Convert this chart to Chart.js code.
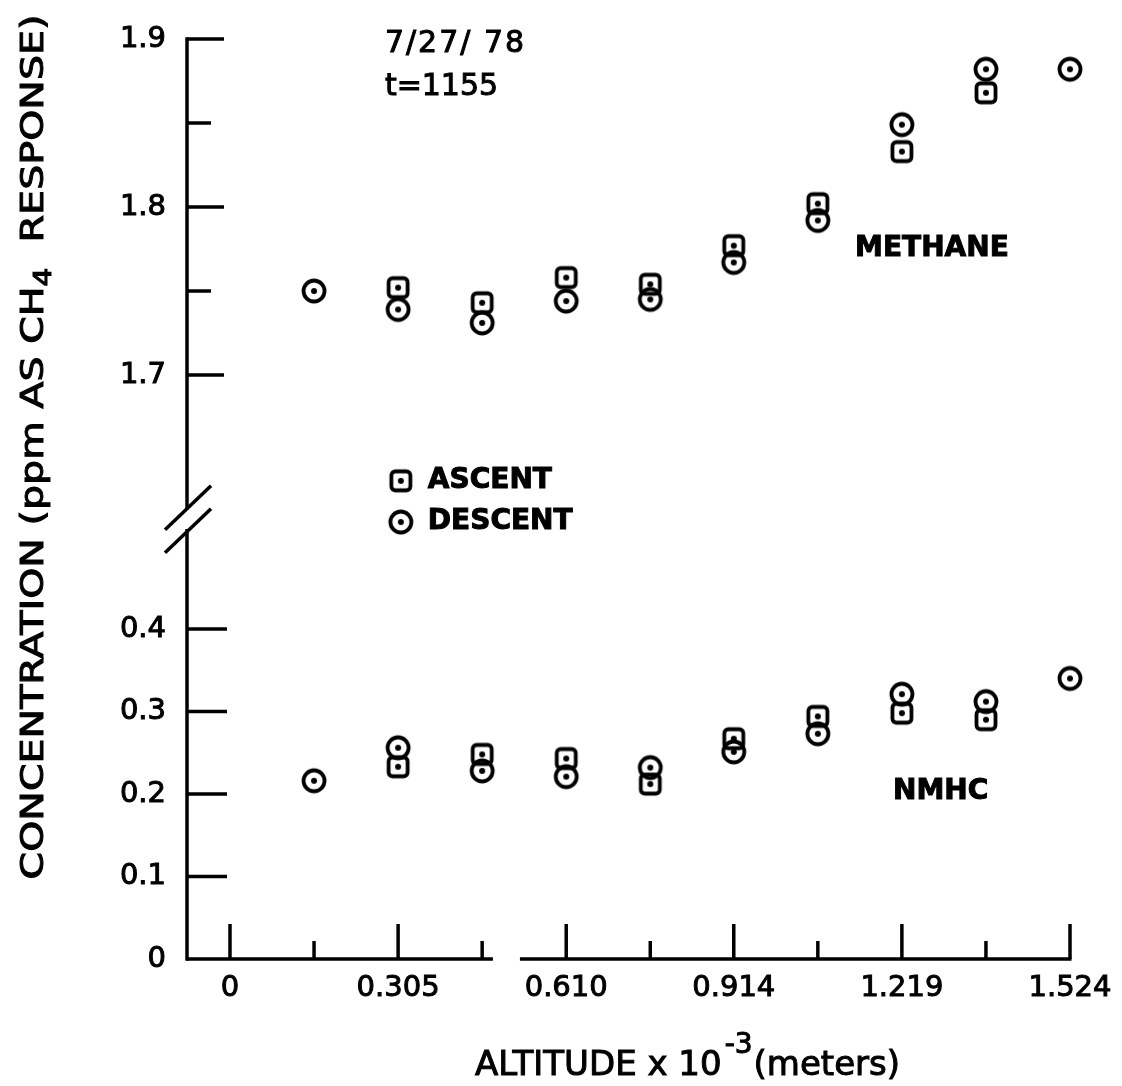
<!DOCTYPE html>
<html>
<head>
<meta charset="utf-8">
<title>Methane and NMHC vs altitude</title>
<script src="https://cdn.jsdelivr.net/npm/chart.js@4.4.1/dist/chart.umd.min.js"></script>
<style>
  html, body { margin: 0; padding: 0; background: #fff; }
  canvas { display: block; }
</style>
</head>
<body>
<canvas id="chart" width="1122" height="1086"></canvas>
<script>
// altitude x 10^-3 (m) of each sample
const altitude = [0.1525, 0.305, 0.4575, 0.610, 0.7625, 0.914, 1.0665, 1.219, 1.3715, 1.524];

// ppm as CH4 response, null = no sample
const methaneAscent  = [null, 1.752, 1.743, 1.758, 1.754, 1.777, 1.802, 1.833, 1.868, null];
const methaneDescent = [1.750, 1.739, 1.731, 1.744, 1.745, 1.767, 1.792, 1.849, 1.882, 1.882];
const nmhcAscent     = [null, 0.233, 0.248, 0.243, 0.212, 0.267, 0.294, 0.298, 0.290, null];
const nmhcDescent    = [0.216, 0.256, 0.228, 0.221, 0.232, 0.251, 0.273, 0.321, 0.312, 0.340];

const xTicks = [0, 0.1525, 0.305, 0.4575, 0.610, 0.7625, 0.914, 1.0665, 1.219, 1.3715, 1.524];
const xTickLabels = ['0', '', '0.305', '', '0.610', '', '0.914', '', '1.219', '', '1.524'];
const topTicks = [1.7, 1.75, 1.8, 1.85, 1.9];
const topTickLabels = ['1.7', '', '1.8', '', '1.9'];
const botTicks = [0, 0.1, 0.2, 0.3, 0.4];
const botTickLabels = ['0', '0.1', '0.2', '0.3', '0.4'];

// where the broken axes stop
const topBreak = 1.621;
const botBreak = 0.519;
const xGap = [0.477, 0.526];

Chart.defaults.font.family = '"DejaVu Sans"';
Chart.defaults.color = '#000';

function makeMarker(kind) {
    const c = document.createElement('canvas');
    c.width = c.height = 30;
    const g = c.getContext('2d');
    g.strokeStyle = '#000';
    g.fillStyle = '#000';
    g.lineWidth = 3.8;
    g.beginPath();
    if (kind === 'circle') {
        g.arc(15, 15, 10.5, 0, Math.PI * 2);
    } else {
        g.roundRect(5.5, 5.5, 19, 19, 4);
    }
    g.stroke();
    g.beginPath();
    g.arc(15, 15, 3, 0, Math.PI * 2);
    g.fill();
    return c;
}
const squareMark = makeMarker('square');
const circleMark = makeMarker('circle');

function pts(vals) {
    return altitude.map((x, i) => ({ x: x, y: vals[i] })).filter(p => p.y !== null);
}

const tickFont = { size: 29 };

const brokenAxes = {
    id: 'brokenAxes',
    afterDatasetsDraw(chart) {
        const { ctx, chartArea: a, scales } = chart;
        const x = scales.x, yTop = scales.yTop, yBot = scales.yBot;
        const line = (x1, y1, x2, y2) => {
            ctx.beginPath();
            ctx.moveTo(x1, y1);
            ctx.lineTo(x2, y2);
            ctx.stroke();
        };
        const text = (s, tx, ty) => {
            ctx.strokeText(s, tx, ty);
            ctx.fillText(s, tx, ty);
        };
        ctx.save();
        ctx.strokeStyle = '#000';
        ctx.lineWidth = 3.5;
        ctx.lineCap = 'square';

        const ax = a.left;
        const yt0 = yTop.getPixelForValue(1.9), yt1 = yTop.getPixelForValue(topBreak);
        const yb0 = yBot.getPixelForValue(botBreak), yb1 = yBot.getPixelForValue(0);
        line(ax, yt0, ax, yt1);
        line(ax, yb0, ax, yb1);

        // break marks
        ctx.lineCap = 'butt';
        [yt1, yb0].forEach(yy => line(ax - 22, yy + 22, ax + 24, yy - 22));

        topTicks.forEach((v, i) => {
            const yy = yTop.getPixelForValue(v);
            line(ax, yy, ax + (topTickLabels[i] ? 37 : 24), yy);
        });
        botTicks.forEach((v, i) => {
            if (v === 0) return;
            const yy = yBot.getPixelForValue(v);
            line(ax, yy, ax + 40, yy);
        });

        // x axis with a gap
        line(ax, yb1, x.getPixelForValue(xGap[0]), yb1);
        line(x.getPixelForValue(xGap[1]), yb1, x.getPixelForValue(1.524) + 1.5, yb1);
        xTicks.forEach((v, i) => {
            const xx = x.getPixelForValue(v);
            line(xx, yb1, xx, yb1 - (xTickLabels[i] ? 35 : 18));
        });

        // notes
        ctx.lineWidth = 1;
        ctx.fillStyle = '#000';
        ctx.textAlign = 'left';
        ctx.textBaseline = 'middle';
        ctx.font = '30px "DejaVu Sans"';
        ctx.letterSpacing = '2px';
        text('7/27/ 78', x.getPixelForValue(0.281), yTop.getPixelForValue(1.897));
        ctx.letterSpacing = '0px';
        text('t=1155', x.getPixelForValue(0.281), yTop.getPixelForValue(1.8714));

        ctx.font = 'bold 28px "DejaVu Sans"';
        text('METHANE', x.getPixelForValue(1.134), yTop.getPixelForValue(1.775));
        text('NMHC', x.getPixelForValue(1.203), yBot.getPixelForValue(0.2024));

        // legend
        const lx = x.getPixelForValue(0.310);
        const ly1 = yTop.getPixelForValue(1.637), ly2 = yTop.getPixelForValue(1.6125);
        ctx.drawImage(squareMark, lx - 15, ly1 - 15);
        ctx.drawImage(circleMark, lx - 15, ly2 - 15);
        text('ASCENT', x.getPixelForValue(0.359), ly1);
        text('DESCENT', x.getPixelForValue(0.359), ly2);

        // x title
        ctx.textBaseline = 'alphabetic';
        ctx.font = '34px "DejaVu Sans"';
        let tx = 475;
        const base = 1075;
        text('ALTITUDE x 10', tx, base);
        tx += ctx.measureText('ALTITUDE x 10').width + 3;
        ctx.font = '28px "DejaVu Sans"';
        text('-3', tx, base - 22);
        tx += ctx.measureText('-3').width + 1;
        ctx.font = '34px "DejaVu Sans"';
        text('(meters)', tx, base);

        // y title, rotated, squeezed to the drawn length
        const p1 = 'CONCENTRATION (ppm AS CH', p2 = '4', p3 = '  RESPONSE)';
        ctx.font = '32px "DejaVu Sans"';
        const w1 = ctx.measureText(p1).width, w3 = ctx.measureText(p3).width;
        ctx.font = '24px "DejaVu Sans"';
        const w2 = ctx.measureText(p2).width;
        const total = w1 + w2 + w3;
        const target = 865;
        ctx.translate(35, 447);
        ctx.rotate(-Math.PI / 2);
        ctx.scale(target / total, 1);
        ctx.textBaseline = 'middle';
        let sx = -total / 2;
        ctx.font = '32px "DejaVu Sans"';
        text(p1, sx, 0);
        sx += w1;
        ctx.font = '24px "DejaVu Sans"';
        text(p2, sx, 10);
        sx += w2;
        ctx.font = '32px "DejaVu Sans"';
        text(p3, sx, 0);
        ctx.restore();
    }
};

const tickOpts = labels => ({
    callback: (v, i) => labels[i],
    font: tickFont,
    textStrokeColor: '#000',
    textStrokeWidth: 1,
    autoSkip: false
});

new Chart(document.getElementById('chart'), {
    type: 'scatter',
    data: {
        datasets: [
            { label: 'Methane ascent', data: pts(methaneAscent), yAxisID: 'yTop', pointStyle: squareMark, clip: false },
            { label: 'Methane descent', data: pts(methaneDescent), yAxisID: 'yTop', pointStyle: circleMark, clip: false },
            { label: 'NMHC ascent', data: pts(nmhcAscent), yAxisID: 'yBot', pointStyle: squareMark, clip: false },
            { label: 'NMHC descent', data: pts(nmhcDescent), yAxisID: 'yBot', pointStyle: circleMark, clip: false }
        ]
    },
    options: {
        responsive: false,
        animation: false,
        devicePixelRatio: 1,
        layout: { padding: { top: 39, right: 52, left: 0, bottom: 0 } },
        plugins: {
            legend: { display: false },
            tooltip: { enabled: false }
        },
        scales: {
            x: {
                type: 'linear',
                min: -0.078,
                max: 1.524,
                grid: { display: false, drawTicks: false },
                border: { display: false },
                afterBuildTicks: s => { s.ticks = xTicks.map(v => ({ value: v })); },
                ticks: Object.assign(tickOpts(xTickLabels), { padding: 12, maxRotation: 0 }),
                afterFit: s => { s.height = 127; s.paddingLeft = 0; s.paddingRight = 0; }
            },
            // upper and lower parts of the broken y axis, stacked in one column
            yTop: {
                type: 'linear',
                position: 'left',
                stack: 'conc',
                stackWeight: 480,
                weight: 1,
                min: 1.6143,
                max: 1.9,
                grid: { display: false, drawTicks: false },
                border: { display: false },
                afterBuildTicks: s => { s.ticks = topTicks.map(v => ({ value: v })); },
                ticks: Object.assign(tickOpts(topTickLabels), { padding: 21 }),
                afterFit: s => { s.width = 187; s.paddingTop = 0; s.paddingBottom = 0; }
            },
            yBot: {
                type: 'linear',
                position: 'left',
                stack: 'conc',
                stackWeight: 440,
                weight: 0,
                min: 0,
                max: 0.5333,
                grid: { display: false, drawTicks: false },
                border: { display: false },
                afterBuildTicks: s => { s.ticks = botTicks.map(v => ({ value: v })); },
                ticks: Object.assign(tickOpts(botTickLabels), { padding: 21 }),
                afterFit: s => { s.width = 187; s.paddingTop = 0; s.paddingBottom = 0; }
            }
        }
    },
    plugins: [brokenAxes]
});
</script>
</body>
</html>
